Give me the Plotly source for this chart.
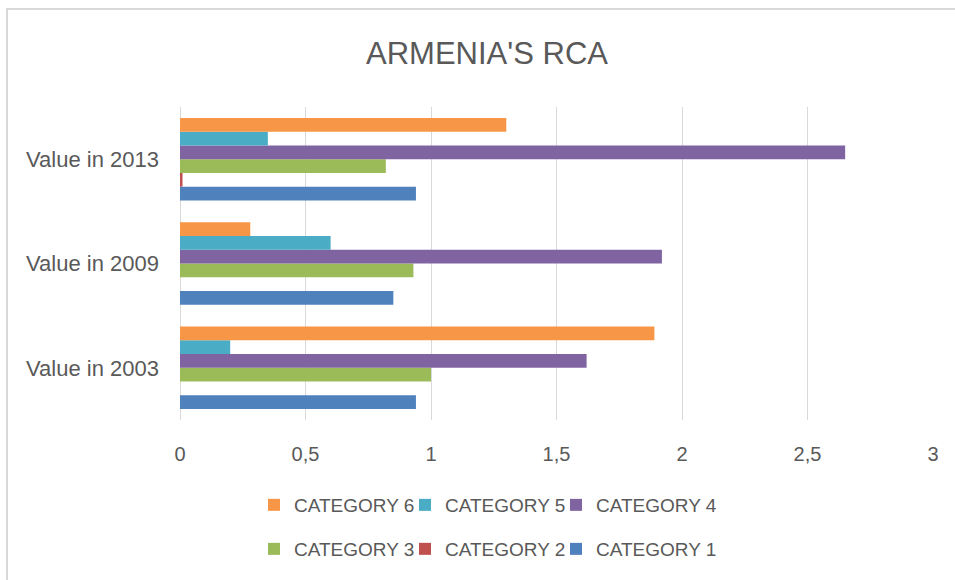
import plotly.graph_objects as go

YEARS = ["Value in 2003", "Value in 2009", "Value in 2013"]

CATEGORIES = ["CATEGORY 1", "CATEGORY 2", "CATEGORY 3", "CATEGORY 4", "CATEGORY 5", "CATEGORY 6"]
COLORS = ["#4F81BD", "#C0504D", "#9BBB59", "#8064A2", "#4BACC6", "#F79646"]

# values per category, in the order of YEARS
cat1 = [0.94, 0.85, 0.94]
cat2 = [0.0, 0.0, 0.01]
cat3 = [1.0, 0.93, 0.82]
cat4 = [1.62, 1.92, 2.65]
cat5 = [0.2, 0.6, 0.35]
cat6 = [1.89, 0.28, 1.3]

SERIES = [cat1, cat2, cat3, cat4, cat5, cat6]

GREY = "#595959"
GRID = "#D9D9D9"
FONT = "Liberation Sans, Arial"


def spacer(legend):
    # empty legend entry so the last real entry isn't clipped
    return go.Scatter(
        x=[None], y=[None], mode="markers", name=" ",
        marker=dict(color="rgba(0,0,0,0)"),
        legend=legend, showlegend=True, hoverinfo="skip",
    )


fig = go.Figure()
fig.add_trace(spacer("legend2"))
for i, (name, vals, col) in enumerate(zip(CATEGORIES, SERIES, COLORS)):
    if i == 3:
        fig.add_trace(spacer("legend"))
    fig.add_trace(go.Bar(
        x=vals,
        y=YEARS,
        name=name,
        orientation="h",
        marker=dict(color=col, line=dict(width=0)),
        legend="legend2" if i < 3 else "legend",
    ))

W, H = 955, 580
L, R, T, B = 180, 22, 107, 160
pw, ph = W - L - R, H - T - B


def px_x(p):
    return (p - L) / pw


def px_y(p):
    return (H - B - p) / ph


legend_common = dict(
    orientation="h",
    traceorder="reversed",
    font=dict(family=FONT, size=19, color=GREY),
    itemwidth=30,
    entrywidth=106,
    entrywidthmode="pixels",
    xanchor="left",
    yanchor="middle",
    bgcolor="rgba(0,0,0,0)",
)

fig.update_layout(
    width=W,
    height=H,
    margin=dict(l=L, r=R, t=T, b=B),
    paper_bgcolor="white",
    plot_bgcolor="white",
    separators=",.",
    barmode="group",
    bargap=0.21,
    bargroupgap=0,
    title=dict(
        text="ARMENIA'S RCA",
        x=487 / W,
        xref="container",
        xanchor="center",
        y=(H - 53) / H,
        yanchor="middle",
        font=dict(family=FONT, size=31, color=GREY),
    ),
    xaxis=dict(
        range=[0, 3],
        dtick=0.5,
        showgrid=True,
        gridcolor=GRID,
        gridwidth=1,
        zeroline=True,
        zerolinecolor=GRID,
        zerolinewidth=1,
        showline=False,
        ticks="",
        ticklabelstandoff=20,
        tickfont=dict(family=FONT, size=20, color=GREY),
    ),
    yaxis=dict(
        type="category",
        categoryorder="array",
        categoryarray=YEARS,
        showgrid=False,
        zeroline=False,
        showline=False,
        ticks="",
        ticklabelstandoff=20,
        tickfont=dict(family=FONT, size=22, color=GREY),
    ),
    legend=dict(legend_common, x=px_x(254), y=px_y(505)),
    legend2=dict(legend_common, x=px_x(254), y=px_y(549)),
    shapes=[dict(
        type="rect",
        xref="paper", yref="paper",
        x0=px_x(7), x1=px_x(W + 10),
        y0=px_y(H + 10), y1=px_y(9),
        line=dict(color=GRID, width=2),
        fillcolor="rgba(0,0,0,0)",
        layer="below",
    )],
)

fig.write_html(
    "out.html",
    config={"displayModeBar": False},
    post_script="document.body.style.margin='0';",
)
